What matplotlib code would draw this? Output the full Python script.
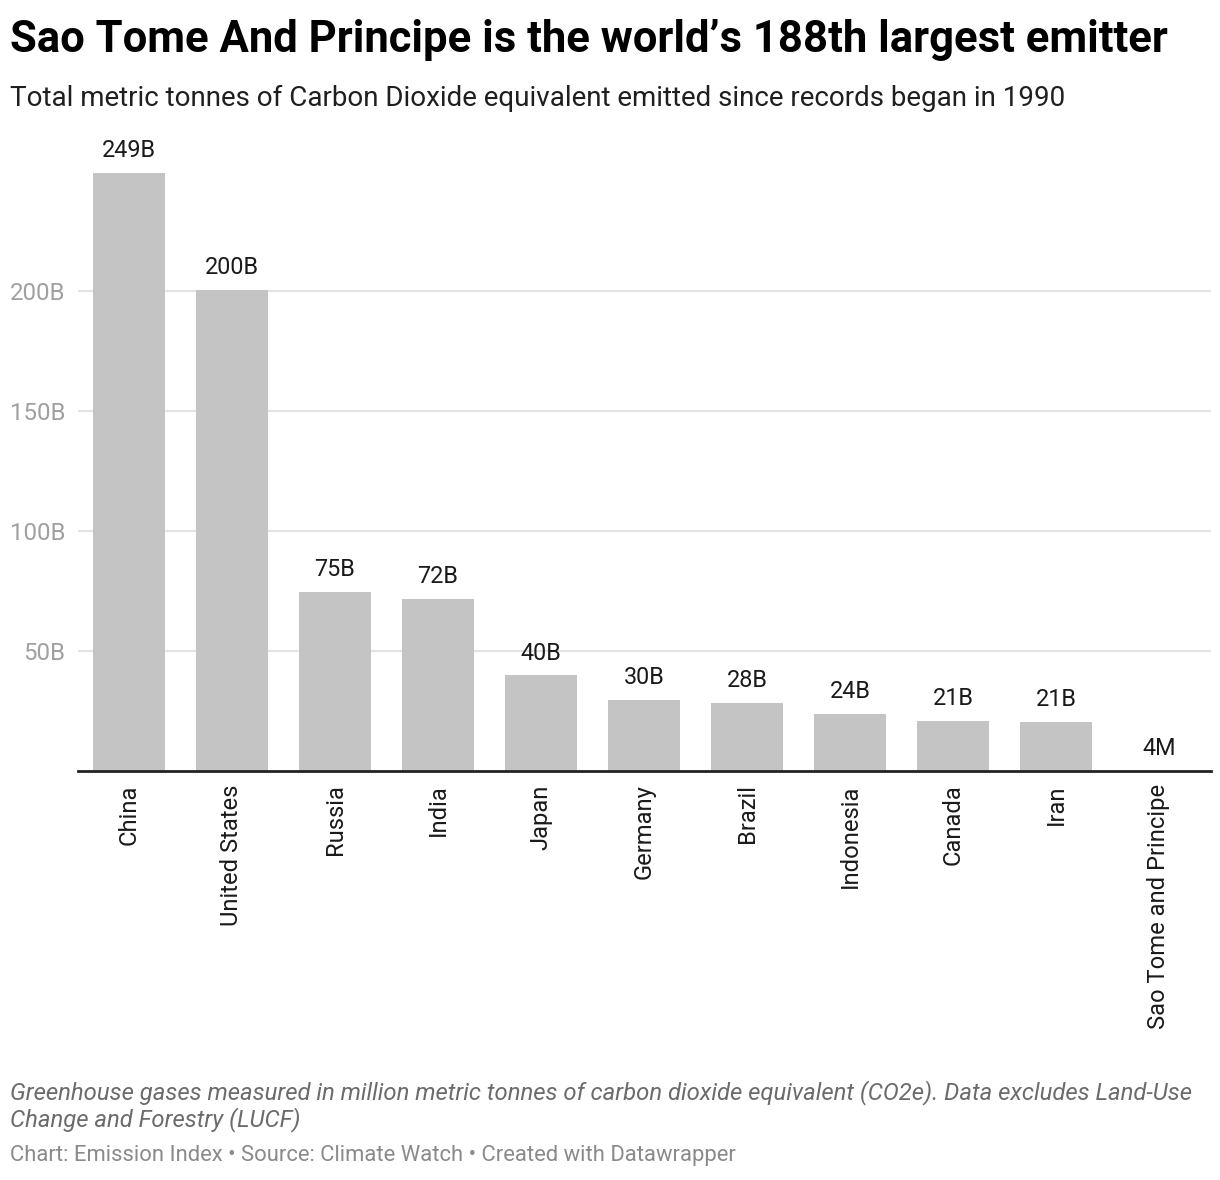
import matplotlib
matplotlib.use("Agg")
import matplotlib.pyplot as plt

plt.rcParams["font.family"] = ["Roboto", "DejaVu Sans"]

countries = ["China", "United States", "Russia", "India", "Japan", "Germany",
             "Brazil", "Indonesia", "Canada", "Iran", "Sao Tome and Principe"]
emissions_b = [249.2, 200.3, 74.5, 71.6, 39.8, 29.5, 28.2, 23.6, 20.7, 20.6, 0.004]
value_labels = ["249B", "200B", "75B", "72B", "40B", "30B", "28B", "24B",
                "21B", "21B", "4M"]
y_ticks = [50, 100, 150, 200]
y_tick_labels = ["50B", "100B", "150B", "200B"]

W, H = 1220, 1180
BAR = "#c4c4c4"
GRID = "#e3e3e3"

fig = plt.figure(figsize=(W / 100, H / 100), dpi=100)
fig.patch.set_facecolor("white")

ax = fig.add_axes([77.5 / W, 1 - 771 / H, 1133 / W, 641 / H])
x = list(range(len(countries)))
ax.bar(x, emissions_b, width=0.7, color=BAR, zorder=2)
ax.set_xlim(-0.5, len(countries) - 0.5)
ax.set_ylim(0, 641 / 2.4)

ax.set_yticks(y_ticks)
ax.set_yticklabels(y_tick_labels)
ax.grid(axis="y", color=GRID, linewidth=1.5, zorder=0)
ax.tick_params(axis="y", length=0, pad=9, labelsize=17.3, labelcolor="#a0a0a0")

ax.set_xticks(x)
ax.set_xticklabels(countries, rotation=90)
ax.tick_params(axis="x", length=0, pad=9.5, labelsize=17.1, labelcolor="#1a1a1a")

for s in ["top", "right", "left"]:
    ax.spines[s].set_visible(False)
ax.spines["bottom"].set_color("#222222")
ax.spines["bottom"].set_linewidth(2)
ax.spines["bottom"].set_zorder(3)

for xi, v, lab in zip(x, emissions_b, value_labels):
    ax.annotate(lab, (xi, v), xytext=(0, 11.5), textcoords="offset points",
                ha="center", va="baseline", fontsize=16.8, color="#1a1a1a")

fig.text(10 / W, 1 - 52 / H, "Sao Tome And Principe is the world\u2019s 188th largest emitter",
         fontsize=31.4, fontweight="bold", color="#000000", va="baseline")
fig.text(10 / W, 1 - 106 / H,
         "Total metric tonnes of Carbon Dioxide equivalent emitted since records began in 1990",
         fontsize=20, color="#1f1f1f", va="baseline")

fig.text(10 / W, 1 - 1099 / H,
         "Greenhouse gases measured in million metric tonnes of carbon dioxide equivalent (CO2e). Data excludes Land-Use",
         fontsize=17.2, style="italic", color="#6b6b6b", va="baseline")
fig.text(10 / W, 1 - 1126 / H, "Change and Forestry (LUCF)",
         fontsize=17.2, style="italic", color="#6b6b6b", va="baseline")
fig.text(10 / W, 1 - 1161 / H,
         "Chart: Emission Index \u2022 Source: Climate Watch \u2022 Created with Datawrapper",
         fontsize=15.8, color="#8a8a8a", va="baseline")

fig.savefig("out.png", dpi=100)
